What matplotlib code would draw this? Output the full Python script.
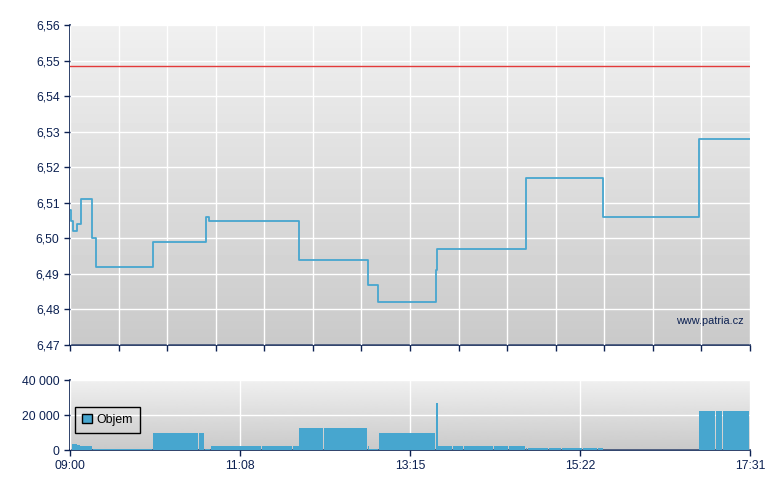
import numpy as np
import matplotlib
matplotlib.use("Agg")
from matplotlib import pyplot as plt
from matplotlib.patches import Patch

plt.rcParams['font.family'] = ['Liberation Sans', 'DejaVu Sans']

# minutes after 09:00 for each price change, price after the change
price_min = [0, 0.8, 1.9, 5.3, 7.9, 16.9, 19.2, 62.4, 102.2, 104.8, 172.1,
             224.0, 231.8, 274.7, 275.8, 342.7, 400.5, 472.7]
price = [6.508, 6.505, 6.502, 6.504, 6.511, 6.500, 6.492, 6.499, 6.506, 6.505,
         6.494, 6.487, 6.482, 6.491, 6.497, 6.517, 6.506, 6.528]
end_min = 511  # 17:31
prev_close = 6.5485

# volume bars: start minute and volume
vol_min = [1.3, 5.5, 7.7, 9.2, 17.1, 33.3, 40.1, 46.1, 49.1, 62.2, 96.7, 98.7,
           101.5, 103.9, 105.7, 108.4, 109.9, 132.5, 139.3, 144.3, 146.0, 158.0,
           167.6, 170.8, 172.1, 180.6, 190.7, 223.7, 224.7, 232.2, 274.9, 276.6,
           287.6, 295.9, 318.4, 319.6, 329.7, 330.9, 342.4, 344.0, 359.7, 369.7,
           383.5, 385.5, 387.2, 394.8, 396.6, 401.3,
           472.7, 480.5, 485.3, 488.0, 490.7, 492.2, 506.7]
volume = [3700, 2700, 2100, 2100, 500, 500, 500, 500, 500, 9500, 9500, 9500,
          600, 300, 2500, 2500, 2500, 2500, 2500, 2500, 2500, 2500,
          2500, 2500, 12400, 12400, 12400, 2500, 600, 10000, 27000, 2500,
          2500, 2500, 2500, 2500, 2500, 2500, 1000, 1400, 1400, 1400,
          1400, 1400, 1400, 1400, 1400, 0,
          22300, 22300, 22300, 22300, 22300, 22300, 22300]

time_labels = ["09:00", "11:08", "13:15", "15:22", "17:31"]
price_ticks = [6.47, 6.48, 6.49, 6.50, 6.51, 6.52, 6.53, 6.54, 6.55, 6.56]

navy = '#0c2152'
blue = '#47a6cf'

fig = plt.figure(figsize=(7.8, 4.9), dpi=100)
ax = fig.add_axes([70/780, 1-345/490, 680/780, 320/490])
ax2 = fig.add_axes([70/780, 1-450/490, 680/780, 70/490])


def style(a, ymin, ymax):
    grad = np.linspace(0.94, 0.79, 100)[:, None]
    a.imshow(grad, extent=[0, end_min, ymin, ymax], aspect='auto', cmap='gray',
             vmin=0, vmax=1, zorder=0, interpolation='bilinear')
    a.set_xlim(0, end_min)
    a.set_ylim(ymin, ymax)
    a.grid(True, color='white', linewidth=1, zorder=1)
    a.set_axisbelow(False)
    for s in ['top', 'right']:
        a.spines[s].set_visible(False)
    for s in ['left', 'bottom']:
        a.spines[s].set_color(navy)
        a.spines[s].set_linewidth(1.2)
    a.tick_params(direction='out', length=4, color=navy, labelcolor=navy,
                  labelsize=8.8, width=1)


# price chart
style(ax, 6.47, 6.56)
ax.set_yticks(price_ticks)
ax.set_yticklabels([f"{v:.2f}".replace('.', ',') for v in price_ticks])
ax.set_xticks(np.linspace(0, end_min, 15))
ax.set_xticklabels([])
ax.step(price_min + [end_min], price + [price[-1]], where='post',
        color=blue, linewidth=1.3, zorder=3)
ax.axhline(prev_close, color='#e33a3a', linewidth=1, zorder=3)
ax.text(0.99, 0.075, "www.patria.cz", transform=ax.transAxes, ha='right',
        va='center', color=navy, fontsize=7.8, zorder=4)

# volume chart
style(ax2, 0, 40000)
ax2.set_yticks([0, 20000, 40000])
ax2.set_yticklabels(["0", "20 000", "40 000"])
ax2.set_xticks(np.linspace(0, end_min, 5))
ax2.set_xticklabels(time_labels)
widths = np.diff(vol_min + [end_min])
widths = widths - np.minimum(0.55, widths * 0.2)
ax2.bar(vol_min, volume, width=widths, align='edge', color=blue,
        linewidth=0, zorder=3)
leg = ax2.legend(handles=[Patch(facecolor=blue, edgecolor='black', linewidth=1)],
                 labels=["Objem"], loc='lower left',
                 bbox_to_anchor=(0.007, 0.24), fancybox=False,
                 fontsize=8.8, handlelength=0.8,
                 handleheight=0.8, handletextpad=0.35, borderpad=0.6,
                 borderaxespad=0)
frame = leg.get_frame()
frame.set_facecolor('none')
frame.set_edgecolor('black')
frame.set_linewidth(1)
frame.set_alpha(None)
leg.get_texts()[0].set_color('black')

fig.savefig("out.png", dpi=100)
